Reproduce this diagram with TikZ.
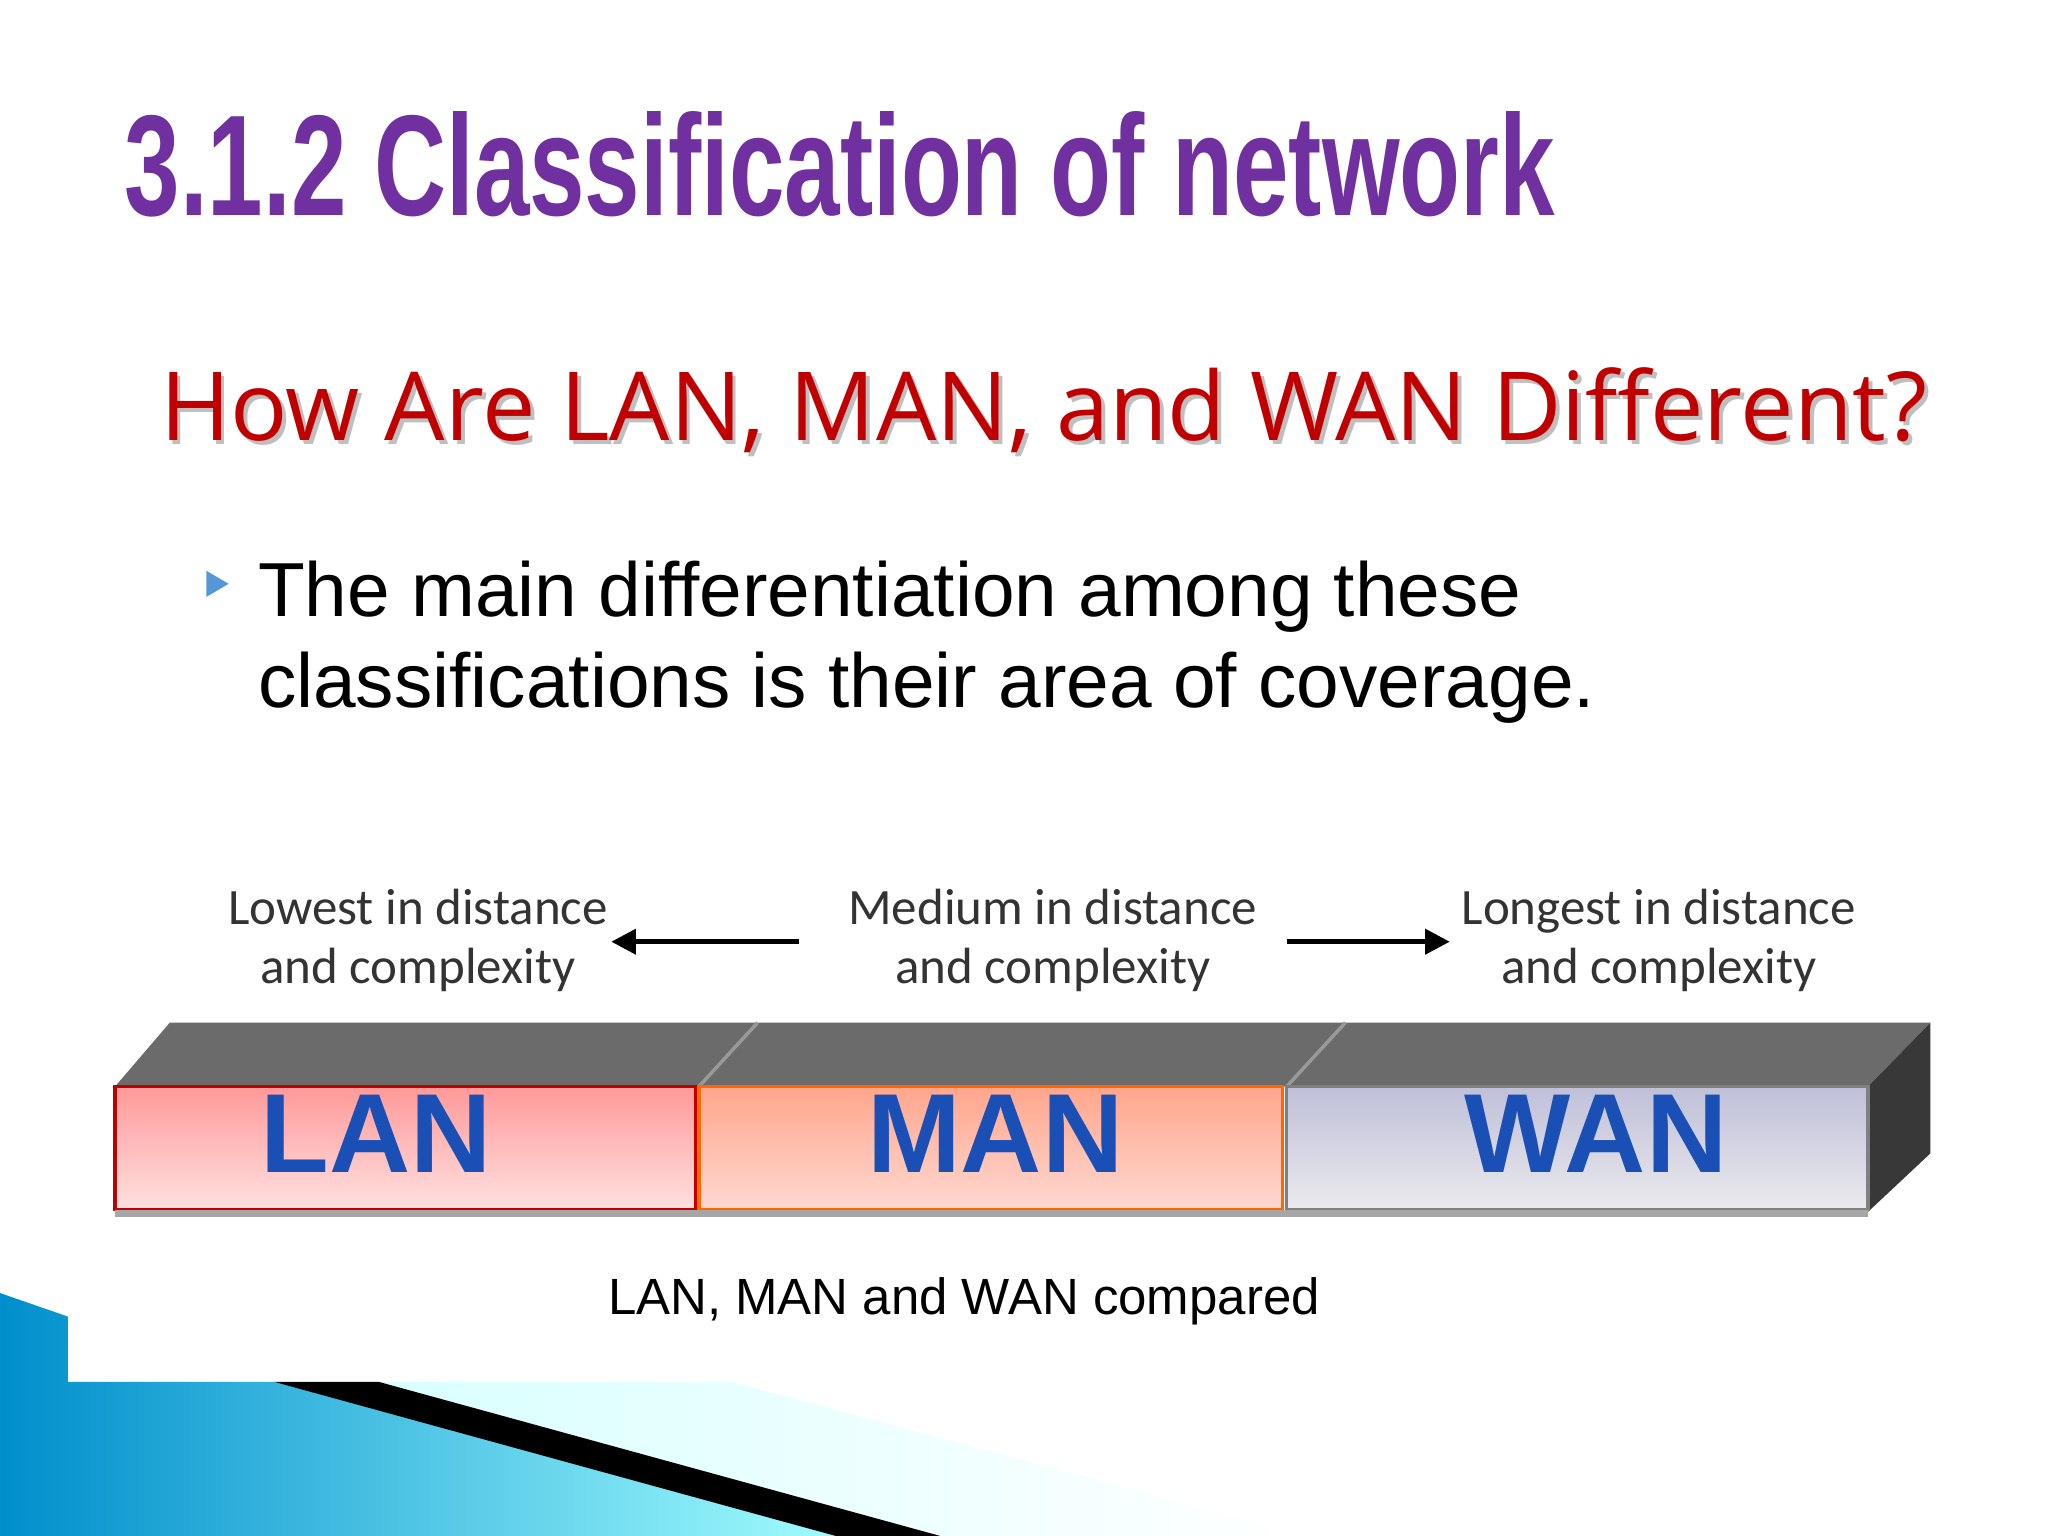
\documentclass[tikz,border=0pt]{standalone}
\usepackage{fontspec}
\setmainfont{Liberation Sans}
\newfontfamily\carl{Carlito}
\newfontfamily\opens{Open Sans}
\usetikzlibrary{arrows.meta}
\definecolor{ttl}{HTML}{7030A0}
\definecolor{sub}{HTML}{C00000}
\definecolor{lanblue}{HTML}{1A4FB5}
\tikzset{
  lbl/.style={font=\carl\fontsize{14.5}{17}\selectfont, text=black!80, align=center},
  arr/.style={-{Triangle[length=7pt,width=7pt]}, line width=1.4pt},
  front/.style={line width=1pt},
  big/.style={font=\bfseries\fontsize{32}{32}\selectfont, text=lanblue}
}
\begin{document}
\begin{tikzpicture}[x=0.013061cm,y=-0.013061cm]
\useasboundingbox (0,0) rectangle (1568,1176);
\fill[white] (0,0) rectangle (1568,1176);
% title
\node[anchor=base west, text=ttl, inner sep=0] (title) at (95,165)
  {\resizebox{14.3cm}{1.04cm}{\bfseries 3.1.2 Classification of network}};
% subtitle
\node[anchor=base west, text=black!25, inner sep=0] at (125,340)
  {\resizebox{17.67cm}{!}{\opens How Are LAN, MAN, and WAN Different?}};
\node[anchor=base west, text=sub, inner sep=0] (subt) at (122,337)
  {\resizebox{17.67cm}{!}{\opens How Are LAN, MAN, and WAN Different?}};
% bullet
\fill[cyan!60!blue!70] (158,437) -- (175,447) -- (158,457) -- cycle;
\node[anchor=base west, inner sep=0, align=left, font=\fontsize{21.8}{26}\selectfont] (bul) at (197,542)
  {The main differentiation among these\\classifications is their area of coverage.};
% labels
\node[lbl] (low) at (320,720) {Lowest in distance\\and complexity};
\node[lbl] (med) at (806,720) {Medium in distance\\and complexity};
\node[lbl] (lng) at (1270,720) {Longest in distance\\and complexity};
\coordinate (a1) at (612,721); \coordinate (a2) at (468,721);
\coordinate (b1) at (985,721); \coordinate (b2) at (1110,721);
\draw[arr] (a1) -- (a2);
\draw[arr] (b1) -- (b2);
% bar
\fill[black!58] (88,832) -- (130,783) -- (1478,783) -- (1430,832) -- cycle;
\draw[black!40, line width=1pt] (580,783) -- (535,832) (1030,783) -- (985,832);
\fill[black!78] (1430,832) -- (1478,783) -- (1478,883) -- (1430,928) -- cycle;
\shade[top color=red!40, bottom color=red!12, front, draw=red!75!black] (88,832) rectangle (533,926);
\shade[top color=orange!45!red!45, bottom color=orange!30!red!18, front, draw=orange!80!red] (535,832) rectangle (982,926);
\shade[top color=blue!25!gray!40, bottom color=blue!10!gray!15, front, draw=gray] (985,832) rectangle (1430,926);
\draw[gray!70, line width=2pt] (88,929) -- (1430,929);
\node[big] (lan) at (288,868) {LAN};
\node[big] (man) at (762,868) {MAN};
\node[big] (wan) at (1222,868) {WAN};
% caption
\node[font=\fontsize{14.5}{18}\selectfont] (cap) at (738,996) {LAN, MAN and WAN compared};
% decoration
\shade[left color=cyan!70!blue!80!black, right color=cyan!35] (0,990) -- (52,1008) -- (52,1058) -- (210,1058) -- (660,1176) -- (0,1176) -- cycle;
\shade[left color=cyan!15, right color=white] (290,1058) -- (560,1058) -- (1000,1176) -- (720,1176) -- cycle;
\fill[black] (210,1058) -- (290,1058) -- (720,1176) -- (640,1176) -- cycle;
\end{tikzpicture}
\end{document}
